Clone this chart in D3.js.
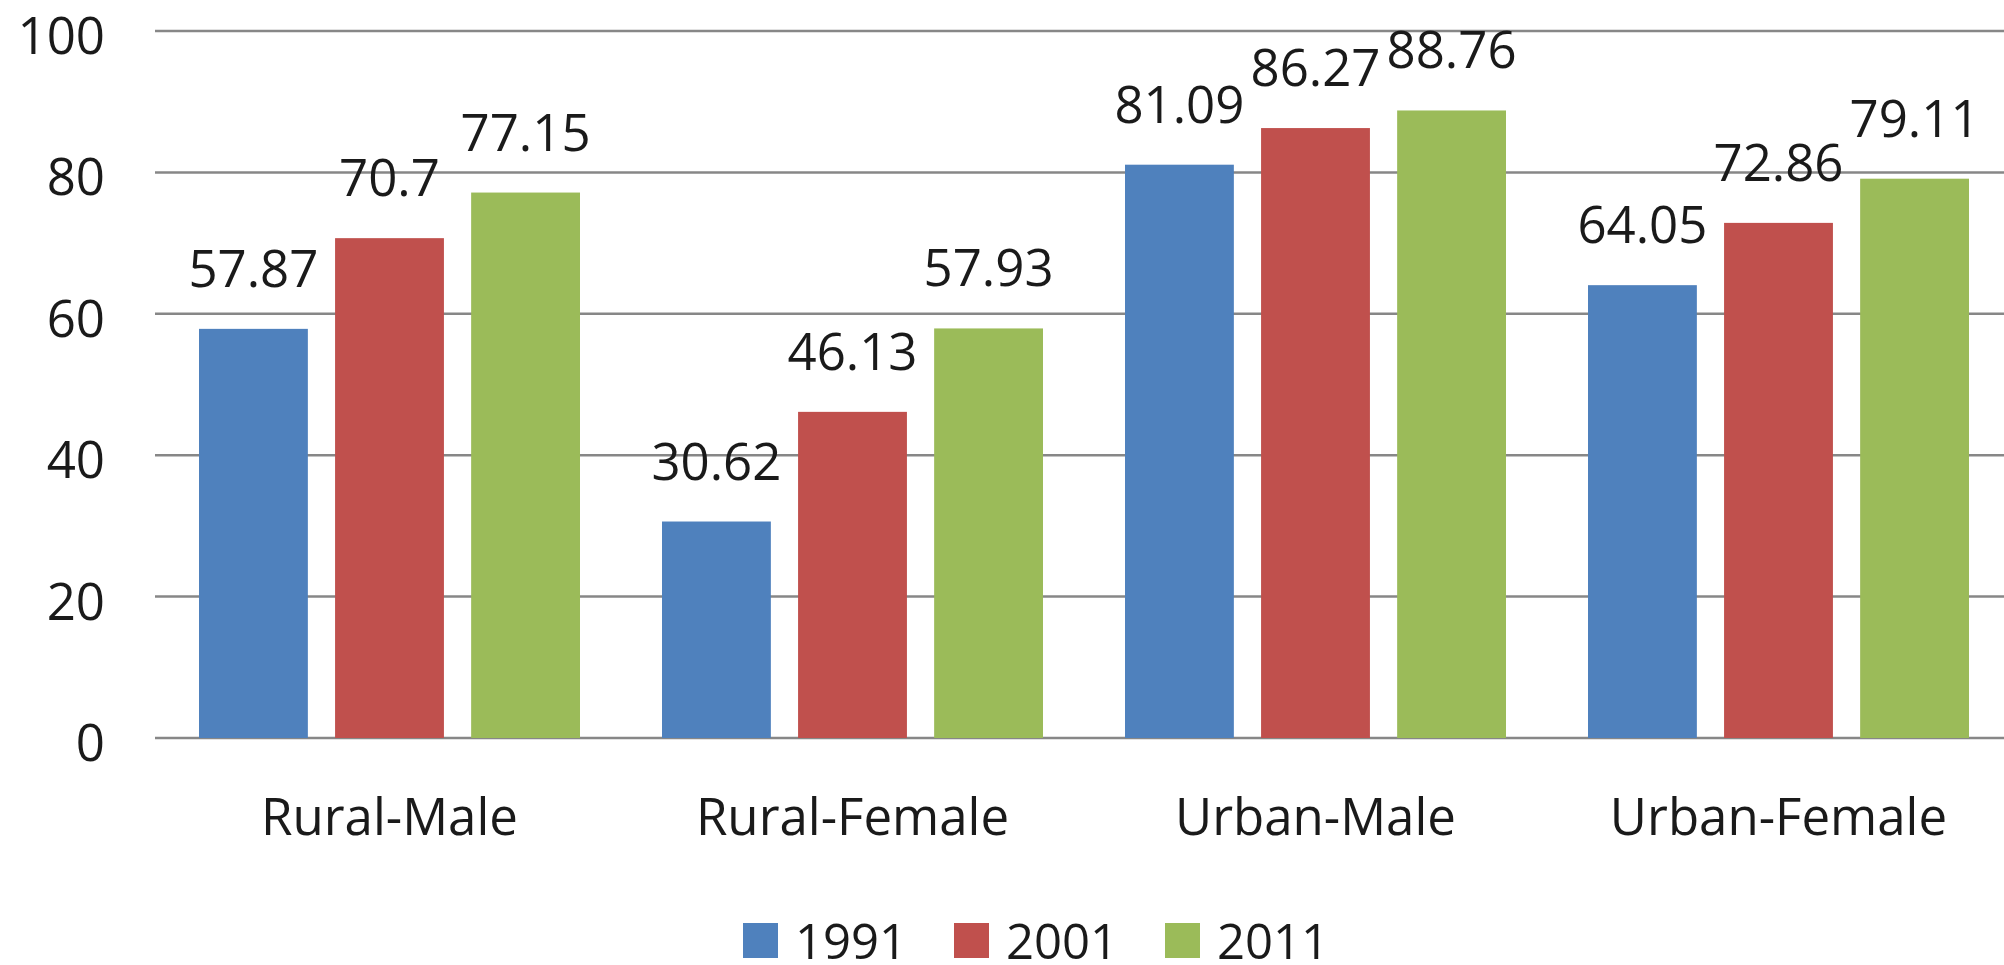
<!DOCTYPE html>
<html>
<head>
<meta charset="utf-8">
<script src="https://cdn.jsdelivr.net/npm/d3@7"></script>
<style>
  html, body { margin: 0; padding: 0; background: #fff; }
  svg { display: block; }
  text { font-family: "Open Sans", sans-serif; fill: #1a1a1a; }
</style>
</head>
<body>
<div id="chart"></div>
<script>
// data
const categories = ["Rural-Male", "Rural-Female", "Urban-Male", "Urban-Female"];
const years = ["1991", "2001", "2011"];
const values1991 = [57.87, 30.62, 81.09, 64.05];
const values2001 = [70.7, 46.13, 86.27, 72.86];
const values2011 = [77.15, 57.93, 88.76, 79.11];
const yTicks = [0, 20, 40, 60, 80, 100];
const colors = ["#4F81BD", "#C0504D", "#9BBB59"];

const seriesValues = [values1991, values2001, values2011];

const width = 2004, height = 965;
const svg = d3.select("#chart").append("svg")
    .attr("width", width)
    .attr("height", height);

const y = d3.scaleLinear().domain([0, 100]).range([738, 31]);
const x0 = d3.scaleBand().domain(categories).range([158, 2010]);
const x1 = d3.scaleBand().domain(years)
    .range([41, x0.bandwidth() - 41])
    .paddingInner(0.2);

// gridlines
svg.append("g").selectAll("line")
    .data(yTicks)
    .join("line")
    .attr("x1", 155).attr("x2", width)
    .attr("y1", d => y(d)).attr("y2", d => y(d))
    .attr("stroke", "#878787")
    .attr("stroke-width", 2.5);

// y tick labels
svg.append("g").selectAll("text")
    .data(yTicks)
    .join("text")
    .attr("x", 105)
    .attr("y", d => y(d) + 3)
    .attr("dominant-baseline", "central")
    .attr("text-anchor", "end")
    .style("font-size", "51px")
    .text(d => d);

// bars
const rows = [];
categories.forEach((c, i) => {
    years.forEach((yr, j) => {
        rows.push({ cat: c, year: yr, value: seriesValues[j][i], color: colors[j] });
    });
});

const groups = svg.append("g");
groups.selectAll("rect")
    .data(rows)
    .join("rect")
    .attr("x", d => x0(d.cat) + x1(d.year))
    .attr("y", d => y(d.value))
    .attr("width", x1.bandwidth())
    .attr("height", d => y(0) - y(d.value))
    .attr("fill", d => d.color);

// data labels
groups.selectAll("text")
    .data(rows)
    .join("text")
    .attr("x", d => x0(d.cat) + x1(d.year) + x1.bandwidth() / 2)
    .attr("y", d => y(d.value) - 42)
    .attr("text-anchor", "middle")
    .style("font-size", "51px")
    .text(d => d.value);

// category labels
svg.append("g").selectAll("text")
    .data(categories)
    .join("text")
    .attr("x", d => x0(d) + x0.bandwidth() / 2)
    .attr("y", 835)
    .attr("text-anchor", "middle")
    .style("font-size", "51px")
    .text(d => d);

// legend
const legend = svg.append("g").attr("transform", "translate(743,923)");
const item = legend.selectAll("g")
    .data(years)
    .join("g")
    .attr("transform", (d, i) => `translate(${i * 211},0)`);
item.append("rect")
    .attr("width", 35).attr("height", 35)
    .attr("fill", (d, i) => colors[i]);
item.append("text")
    .attr("x", 52).attr("y", 36)
    .style("font-size", "49px")
    .text(d => d);
</script>
</body>
</html>
